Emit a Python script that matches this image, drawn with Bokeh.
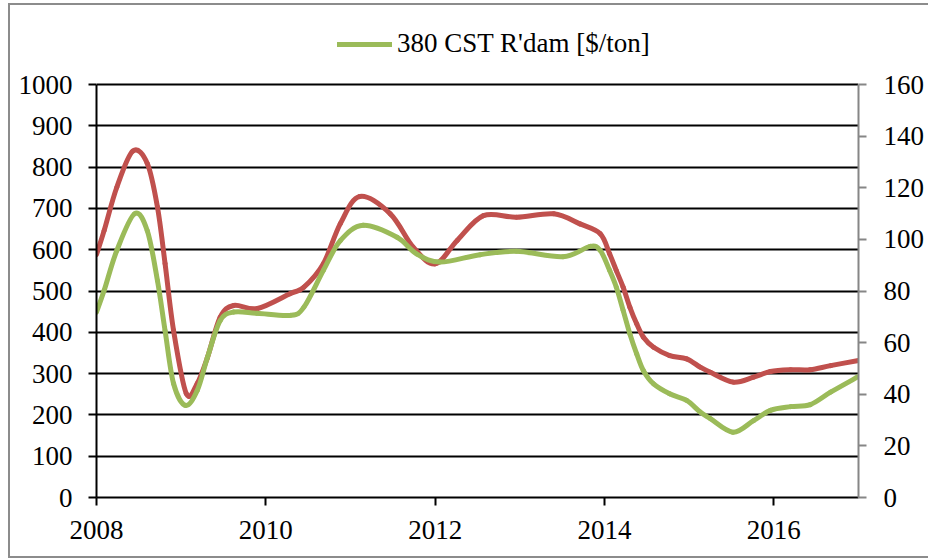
from bokeh.plotting import figure
from bokeh.models import Range1d, LinearAxis, Legend, LegendItem, FixedTicker
from bokeh.embed import file_html
from bokeh.resources import INLINE

# 380 CST Rotterdam fuel price [$/ton] (left axis)
cst_years = [2008.00, 2008.09, 2008.24, 2008.45, 2008.60, 2008.72, 2008.81, 2008.91,
             2009.05, 2009.19, 2009.31, 2009.46, 2009.62, 2009.90, 2010.29, 2010.45,
             2010.68, 2010.88, 2011.15, 2011.55, 2011.78, 2012.06, 2012.53, 2012.96,
             2013.51, 2013.83, 2013.95, 2014.06, 2014.14, 2014.22, 2014.30, 2014.38,
             2014.46, 2014.58, 2014.77, 2014.97, 2015.13, 2015.25, 2015.52, 2015.76,
             2015.96, 2016.20, 2016.43, 2016.67, 2017.00]
cst_values = [449, 501, 598, 687, 646, 525, 404, 276,
              223, 259, 339, 428, 449, 446, 441, 461,
              550, 622, 659, 630, 590, 570, 588, 596,
              583, 608, 598, 550, 509, 453, 396, 348,
              307, 275, 251, 235, 207, 191, 158, 186,
              211, 220, 225, 255, 293]

# Crude oil price [$/bbl] (right axis)
oil_years = [2008.00, 2008.09, 2008.24, 2008.43, 2008.60, 2008.72, 2008.81, 2008.91,
             2009.06, 2009.19, 2009.31, 2009.46, 2009.62, 2009.90, 2010.29, 2010.45,
             2010.68, 2010.88, 2011.11, 2011.47, 2011.74, 2012.00, 2012.26, 2012.57,
             2012.96, 2013.40, 2013.71, 2013.95, 2014.06, 2014.14, 2014.22, 2014.30,
             2014.38, 2014.46, 2014.58, 2014.77, 2014.97, 2015.13, 2015.25, 2015.52,
             2015.76, 2015.96, 2016.20, 2016.43, 2016.67, 2017.00]
oil_values = [94.1, 103.4, 120.2, 134.2, 129.4, 112.5, 90.6, 64.7,
              40.3, 44.2, 54.2, 69.8, 74.4, 73.2, 79.0, 81.5,
              90.6, 106.1, 116.6, 109.9, 97.0, 90.5, 99.6, 109.2,
              108.6, 109.9, 106.0, 102.2, 94.4, 87.9, 81.5, 73.7,
              67.3, 62.1, 58.2, 55.0, 53.7, 50.5, 48.5, 44.7,
              46.6, 48.8, 49.5, 49.5, 51.1, 53.1]

x_ticks = [2008, 2010, 2012, 2014, 2016]
left_ticks = [0, 100, 200, 300, 400, 500, 600, 700, 800, 900, 1000]
right_ticks = [0, 20, 40, 60, 80, 100, 120, 140, 160]
legend_label = "380 CST R'dam [$/ton]"

FONT = "Liberation Serif"
FS = "27px"
GREEN = "#9BBB59"
RED = "#C0504D"

# layout (pixels): plot area of the axes is 413 px tall; the frame is extended
# upward by 64 px so the legend can sit above the 1000 line without clipping
AXES_PX = 413
FRAME_PX = 477
LEFT_MAX = left_ticks[-1]
RIGHT_MAX = right_ticks[-1]


def smooth_segments(xs, ys):
    """Bezier control points through the read points (Excel-like smoothed line)."""
    n = len(xs)
    px = [xs[0]] + list(xs) + [xs[-1]]
    py = [ys[0]] + list(ys) + [ys[-1]]
    x0, y0, x1, y1, cx0, cy0, cx1, cy1 = [], [], [], [], [], [], [], []
    for i in range(1, n):
        a, b, c, d = i - 1, i, i + 1, i + 2
        x0.append(px[b]); y0.append(py[b])
        x1.append(px[c]); y1.append(py[c])
        cx0.append(px[b] + (px[c] - px[a]) / 6.0)
        cy0.append(py[b] + (py[c] - py[a]) / 6.0)
        cx1.append(px[c] - (px[d] - px[b]) / 6.0)
        cy1.append(py[c] - (py[d] - py[b]) / 6.0)
    return dict(x0=x0, y0=y0, x1=x1, y1=y1, cx0=cx0, cy0=cy0, cx1=cx1, cy1=cy1)


p = figure(width=918, height=551, output_backend="svg", toolbar_location=None,
           x_range=Range1d(2008, 2017),
           y_range=Range1d(0, LEFT_MAX * FRAME_PX / AXES_PX),
           min_border_left=86, min_border_right=70, min_border_top=15,
           min_border_bottom=59)
p.extra_y_ranges = {"right": Range1d(0, RIGHT_MAX * FRAME_PX / AXES_PX)}
p.outline_line_color = None
p.background_fill_color = "white"
p.border_fill_color = "white"
p.styles = {
    "margin-left": "10px",
    "margin-top": "5px",
    "box-shadow": "-2px 0 0 #8c8c8c, 0 -2px 0 #8c8c8c, 0 2px 0 #8c8c8c, -2px -2px 0 #8c8c8c, -2px 2px 0 #8c8c8c",
}

p.xgrid.visible = False
p.ygrid.ticker = FixedTicker(ticks=left_ticks)
p.ygrid.grid_line_color = "black"
p.ygrid.grid_line_width = 2


def style_axis(ax, color):
    ax.axis_line_color = color
    ax.axis_line_width = 2
    ax.major_tick_line_color = color
    ax.major_tick_line_width = 2
    ax.major_tick_out = 8
    ax.major_tick_in = 0
    ax.minor_tick_line_color = None
    ax.major_label_text_font = FONT
    ax.major_label_text_font_size = FS
    ax.major_label_text_color = "black"


p.xaxis.ticker = FixedTicker(ticks=x_ticks)
style_axis(p.xaxis[0], "black")
p.xaxis.major_label_standoff = 15

p.yaxis.ticker = FixedTicker(ticks=left_ticks)
p.yaxis.bounds = (0, LEFT_MAX)
style_axis(p.yaxis[0], "black")
p.yaxis.major_label_standoff = 16

right = LinearAxis(y_range_name="right", ticker=FixedTicker(ticks=right_ticks),
                   bounds=(0, RIGHT_MAX))
style_axis(right, "#868686")
right.major_label_standoff = 17
p.add_layout(right, "right")

oil = p.bezier(source=smooth_segments(oil_years, oil_values), x0="x0", y0="y0",
               x1="x1", y1="y1", cx0="cx0", cy0="cy0", cx1="cx1", cy1="cy1",
               y_range_name="right", line_color=RED, line_width=5, line_cap="round")
cst = p.bezier(source=smooth_segments(cst_years, cst_values), x0="x0", y0="y0",
               x1="x1", y1="y1", cx0="cx0", cy0="cy0", cx1="cx1", cy1="cy1",
               line_color=GREEN, line_width=5, line_cap="round")

legend = Legend(items=[LegendItem(label=legend_label, renderers=[cst])],
                location=(241, 438), orientation="horizontal",
                label_text_font=FONT, label_text_font_size=FS,
                label_text_color="black", glyph_width=55, glyph_height=20,
                label_standoff=5, padding=0, margin=0,
                background_fill_alpha=0, border_line_color=None)
p.add_layout(legend, "center")

open("out.html", "w").write(file_html(p, INLINE))
